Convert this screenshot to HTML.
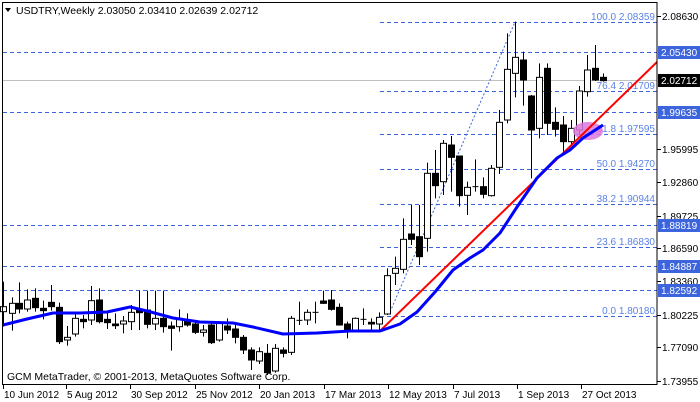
<!DOCTYPE html>
<html><head><meta charset="utf-8"><style>
html,body{margin:0;padding:0;background:#fff;}
svg{display:block;font-family:"Liberation Sans",sans-serif;}
</style></head><body>
<svg id="s" width="700" height="402" xmlns="http://www.w3.org/2000/svg">
<rect x="0" y="0" width="700" height="402" fill="#fff"/>
<g id="grid"></g>
<g id="cand"></g>
<g id="over"></g>
<rect x="2.5" y="2.5" width="654.5" height="382" fill="none" stroke="#000" stroke-width="1"/>
<g id="axis" font-size="10.5"></g>
</svg>
<script>
var NS="http://www.w3.org/2000/svg";
function el(p,t,a,txt){var e=document.createElementNS(NS,t);for(var k in a)e.setAttribute(k,a[k]);if(txt!=null)e.textContent=txt;document.getElementById(p).appendChild(e);return e;}
var full=[52,112,225,266,290];
full.forEach(function(y){el('grid','line',{x1:3,x2:657,y1:y+.5,y2:y+.5,stroke:'#3c64dc','stroke-dasharray':'4,3'});});
var fib=[[22,'100.0 2.08359'],[91,'76.4 2.01709'],[134,'61.8 1.97595'],[169,'50.0 1.94270'],[204,'38.2 1.90944'],[247,'23.6 1.86830'],[316,'0.0 1.80180']];
fib.forEach(function(f){el('grid','line',{x1:380,x2:657,y1:f[0]+.5,y2:f[0]+.5,stroke:'#3c64dc','stroke-dasharray':'4,3'});
el('grid','text',{x:655,y:f[0]-2,'text-anchor':'end','font-size':'10',fill:'#5a82e6'},f[1]);});
el('grid','line',{x1:3,x2:657,y1:80.5,y2:80.5,stroke:'#c0c0c0'});
el('grid','line',{x1:390,y1:312,x2:515,y2:22,stroke:'#3c64dc','stroke-dasharray':'2,2','stroke-width':1});
var L=[[10,65,200,140,155,0],[35,112,212,130,160,0],[58,67,160,130,147,1],[82,88,155,120,147,0],[106,85,155,115,143,1],[130,122,178,145,152,1],[154,75,152,127,140,1],[178,128,252,142,245,1],[202,198,257,232,240,0],[226,160,230,175,222,0],[250,165,205,178,185,1],[274,78,195,122,180,0],[298,85,190,120,185,1],[322,160,207,178,188,1],[346,160,207,192,197,1],[370,168,220,183,192,0],[394,135,210,157,185,0],[418,92,210,147,158,1],[442,92,205,150,193,1],[466,92,210,175,192,0],[490,92,218,175,200,1],[514,185,272,198,205,1],[538,148,215,175,200,0],[562,160,200,180,195,1],[586,183,222,192,217,1],[610,195,230,210,217,0],[634,190,252,195,248,1],[658,185,245,190,240,0],[682,175,222,198,210,1],[706,195,250,207,232,1],[730,225,282,232,270,1],[754,262,330,270,300,1],[778,262,312,275,303,0],[802,252,345,280,338,1],[826,252,338,265,333,0],[850,262,292,270,280,1],[874,168,285,175,277,0],[898,125,195,181,185,0],[922,148,195,157,180,0],[946,125,190,157,160,1],[970,92,132,123,130,1],[994,90,152,120,148,1],[1018,130,197,142,195,1],[1042,185,235,192,212,1],[1066,172,212,175,212,0],[1090,145,195,178,182,1],[1114,175,210,187,192,1],[1138,157,210,172,192,0]];
var R=[[52,775,915,797,912,0],[75,740,825,775,790,0],[100,625,790,688,778,0],[124,585,705,672,688,1],[148,585,765,680,740,1],[172,458,725,490,685,0],[196,420,565,490,527,1],[220,390,555,400,515,0],[244,378,545,405,442,1],[268,438,590,438,557,1],[292,515,615,532,556,0],[316,448,545,530,534,1],[340,502,565,530,553,1],[364,465,560,475,557,0],[388,300,492,337,472,0],[412,70,340,178,330,0],[436,35,262,142,190,0],[460,125,287,150,210,1],[484,255,505,258,360,1],[508,160,385,202,355,0],[532,160,375,175,340,1],[556,292,380,337,358,1],[580,318,425,345,395,1],[604,330,405,355,395,0],[628,228,375,243,360,0],[652,135,260,180,245,0],[676,105,213,175,210,1],[700,190,215,202,212,1]];
function draw(x,h,l,t,b,black){x=Math.round(x)+.5;
el('cand','line',{x1:x,x2:x,y1:h,y2:l,stroke:'#000'});
if(b-t<1.5){el('cand','line',{x1:x-3,x2:x+3,y1:t,y2:t,stroke:'#000'});return;}
el('cand','rect',{x:x-3,y:t,width:6,height:b-t,fill:black?'#000':'#fff',stroke:'#000'});}
L.forEach(function(c){draw(c[0]/3,260+c[1]/3,260+c[2]/3,260+c[3]/3,260+c[4]/3,c[5]);});
R.forEach(function(c){draw(370+c[0]/3,10+c[1]/3,10+c[2]/3,10+c[3]/3,10+c[4]/3,c[5]);});
el('over','ellipse',{cx:588,cy:131,rx:15,ry:9,fill:'#dd77dd','fill-opacity':'0.85'});
el('over','line',{x1:380,y1:331,x2:657,y2:62,stroke:'#ff0000','stroke-width':2});
el('over','polyline',{points:'3,325 27,319 53,313 80,313 107,312 130,307 147,311 173,318 200,322 233,323 253,327 283,334 317,333 350,331 380,331 400,324 417,312 435,292 453,270 470,258 483,250 500,233 517,207 537,178 557,158 570,150 583,138 603,125',fill:'none',stroke:'#0000ff','stroke-width':3,'stroke-linejoin':'round'});
el('axis','path',{d:'M5 8 L11 8 L8 12 Z',fill:'#000'});
el('axis','text',{x:16,y:14,fill:'#000'},'USDTRY,Weekly  2.03050 2.03410 2.02639 2.02712');
el('axis','text',{x:7,y:380,fill:'#000'},'GCM MetaTrader, \u00a9 2001-2013, MetaQuotes Software Corp.');
var ticks=[[16,'2.08630'],[149,'1.95995'],[182,'1.92860'],[216,'1.89725'],[248,'1.86590'],[281,'1.83360'],[315,'1.80225'],[347,'1.77090'],[381,'1.73955']];
ticks.forEach(function(t){el('axis','line',{x1:657,x2:661,y1:t[0]+.5,y2:t[0]+.5,stroke:'#000'});el('axis','text',{x:662,y:t[0]+4,fill:'#000','font-size':'10'},t[1]);});
var boxes=[[52,'2.05430','#3c64dc','#fff'],[80,'2.02712','#000','#fff'],[112,'1.99635','#3c64dc','#fff'],[225,'1.88819','#3c64dc','#fff'],[266,'1.84887','#3c64dc','#fff'],[290,'1.82592','#3c64dc','#fff']];
boxes.forEach(function(b){el('axis','rect',{x:658,y:b[0]-6,width:42,height:13,fill:b[2]});el('axis','text',{x:661,y:b[0]+4,fill:b[3],'font-size':'10'},b[1]);});
var d=[[3,'10 Jun 2012'],[66,'5 Aug 2012'],[130,'30 Sep 2012'],[195,'25 Nov 2012'],[259,'20 Jan 2013'],[324,'17 Mar 2013'],[388,'12 May 2013'],[453,'7 Jul 2013'],[517,'1 Sep 2013'],[581,'27 Oct 2013']];
d.forEach(function(a){el('axis','line',{x1:a[0]+.5,x2:a[0]+.5,y1:385,y2:389,stroke:'#000'});el('axis','text',{x:a[0]+1,y:398,fill:'#000','font-size':'10'},a[1]);});
</script>
</body></html>
